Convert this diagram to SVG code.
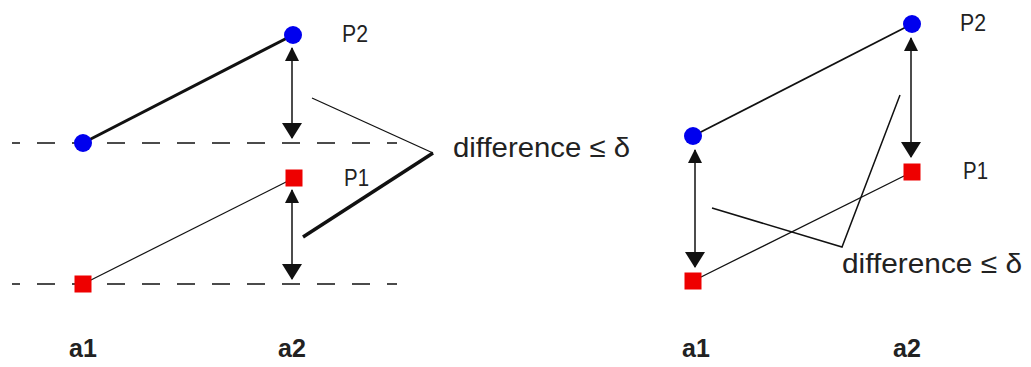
<svg xmlns="http://www.w3.org/2000/svg" width="1031" height="367" viewBox="0 0 1031 367">
<style>
.lbl{font-family:"Liberation Sans",Arial,sans-serif;fill:#222}
.p{font-size:23px}
.ax{font-size:25px;font-weight:bold}
.diff{font-size:28px}
.dash{stroke:#111;stroke-width:1.6;stroke-dasharray:18 17;stroke-dashoffset:10;fill:none}
.arr{stroke:#111;stroke-width:1.5;fill:none;marker-start:url(#hs);marker-end:url(#hl)}
.blue{fill:#0000ee}
.red{fill:#ee0000}
</style>
<defs>
<marker id="hs" viewBox="0 0 14 14" refX="13" refY="7" markerWidth="14" markerHeight="14" markerUnits="userSpaceOnUse" orient="auto-start-reverse">
<path d="M0,0 L14,7 L0,14 Z" fill="#111"/>
</marker>
<marker id="hl" viewBox="0 0 16 20" refX="15" refY="10" markerWidth="16" markerHeight="20" markerUnits="userSpaceOnUse" orient="auto-start-reverse">
<path d="M0,0 L16,10 L0,20 Z" fill="#111"/>
</marker>
</defs>
<g id="connectors">
<line class="dash" x1="12" y1="143" x2="397" y2="143"/>
<line class="dash" x1="12" y1="284" x2="397" y2="284"/>
<line x1="83" y1="143" x2="293" y2="35" stroke="#111" stroke-width="3"/>
<line x1="83" y1="284" x2="294" y2="178" stroke="#111" stroke-width="1.2"/>
<line class="arr" x1="292" y1="48" x2="292" y2="138"/>
<line class="arr" x1="292" y1="190" x2="292" y2="279"/>
<polyline points="312,98 433,153" stroke="#111" stroke-width="1.3" fill="none"/>
<polyline points="433,153 303,237" stroke="#111" stroke-width="3.5" fill="none"/>
<line x1="693" y1="136" x2="912" y2="24" stroke="#111" stroke-width="1.8"/>
<line x1="693" y1="281" x2="912" y2="172" stroke="#111" stroke-width="1.3"/>
<line class="arr" x1="911" y1="38" x2="911" y2="157"/>
<line class="arr" x1="695" y1="150" x2="695" y2="267"/>
<polyline points="712,208 842,247 900,95" stroke="#111" stroke-width="1.5" fill="none"/>
</g>
<g id="left-a1-P2"><circle class="blue" cx="83" cy="143" r="9"/></g>
<g id="left-a2-P2"><circle class="blue" cx="293" cy="35" r="9"/></g>
<g id="left-a2-P1"><rect class="red" x="285.5" y="169.5" width="17" height="17"/></g>
<g id="left-a1-P1"><rect class="red" x="74.5" y="275.5" width="17" height="17"/></g>
<g id="right-a1-P2"><circle class="blue" cx="693" cy="136" r="9"/></g>
<g id="right-a2-P2"><circle class="blue" cx="912" cy="24" r="9"/></g>
<g id="right-a2-P1"><rect class="red" x="903.5" y="163.5" width="17" height="17"/></g>
<g id="right-a1-P1"><rect class="red" x="684.5" y="272.5" width="17" height="17"/></g>
<g id="labels">
<text class="lbl p" x="342" y="42" textLength="26" lengthAdjust="spacingAndGlyphs">P2</text>
<text class="lbl p" x="344" y="186" textLength="25" lengthAdjust="spacingAndGlyphs">P1</text>
<text class="lbl diff" x="453" y="157" textLength="177" lengthAdjust="spacingAndGlyphs">difference ≤ δ</text>
<text class="lbl ax" x="69" y="357">a1</text>
<text class="lbl ax" x="278" y="357">a2</text>
<text class="lbl p" x="960" y="31" textLength="26" lengthAdjust="spacingAndGlyphs">P2</text>
<text class="lbl p" x="963" y="179" textLength="25" lengthAdjust="spacingAndGlyphs">P1</text>
<text class="lbl diff" x="842" y="273" textLength="180" lengthAdjust="spacingAndGlyphs">difference ≤ δ</text>
<text class="lbl ax" x="682" y="357">a1</text>
<text class="lbl ax" x="893" y="357">a2</text>
</g>
</svg>
